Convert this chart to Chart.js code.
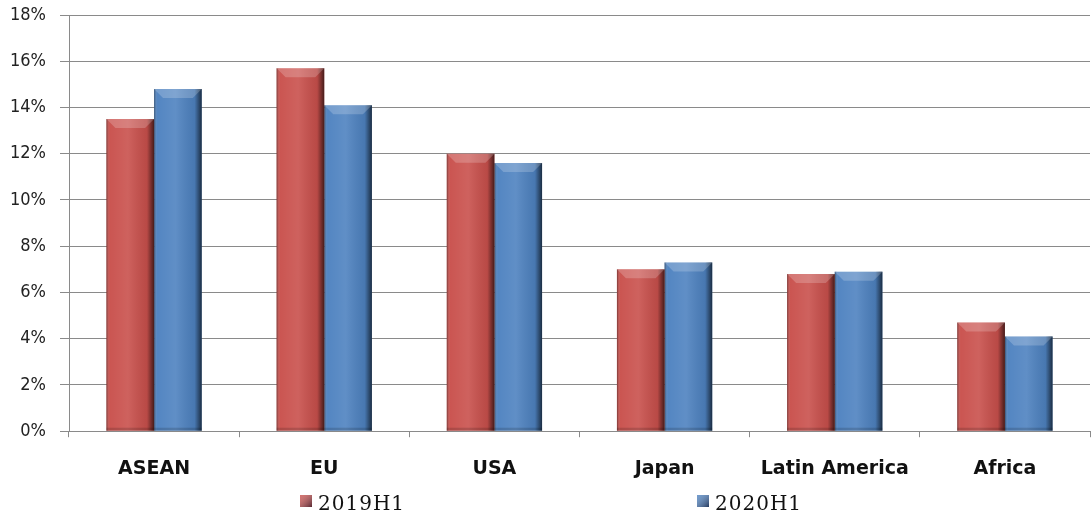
<!DOCTYPE html>
<html>
<head>
<meta charset="utf-8">
<script src="https://cdn.jsdelivr.net/npm/chart.js@4/dist/chart.umd.min.js"></script>
<style>
  html, body { margin: 0; padding: 0; background: #fff; }
  #wrap { width: 1091px; height: 515px; position: relative; }
</style>
</head>
<body>
<div id="wrap"><canvas id="regionChart"></canvas></div>
<script>
// data (percent)
const regions = ['ASEAN', 'EU', 'USA', 'Japan', 'Latin America', 'Africa'];
const seriesNames = ['2019H1', '2020H1'];
const values2019 = [13.5, 15.7, 12.0, 7.0, 6.8, 4.7];
const values2020 = [14.8, 14.1, 11.6, 7.3, 6.9, 4.1];
const yTicks = [0, 2, 4, 6, 8, 10, 12, 14, 16, 18];

const colors = ['#C9504C', '#4E82C0'];
const gridGrey = '#8a8a8a';

// bevel / shading on top of the plain bars
const bevelBars = {
    id: 'bevelBars',
    afterDatasetsDraw(chart) {
        const ctx = chart.ctx;
        chart.data.datasets.forEach((ds, i) => {
            const meta = chart.getDatasetMeta(i);
            meta.data.forEach(bar => {
                const p = bar.getProps(['x', 'y', 'base', 'width'], true);
                const l = p.x - p.width / 2, r = p.x + p.width / 2;
                const top = p.y, bot = p.base;
                const b = 9;
                ctx.save();
                // side shading
                const g = ctx.createLinearGradient(l, 0, r, 0);
                g.addColorStop(0, 'rgba(0,0,0,0.4)');
                g.addColorStop(0.07, 'rgba(255,255,255,0.03)');
                g.addColorStop(0.45, 'rgba(255,255,255,0.1)');
                g.addColorStop(0.85, 'rgba(0,0,0,0.08)');
                g.addColorStop(1, 'rgba(0,0,0,0.65)');
                ctx.fillStyle = g;
                ctx.fillRect(l, top, r - l, bot - top);
                // top bevel
                ctx.beginPath();
                ctx.moveTo(l, top);
                ctx.lineTo(r, top);
                ctx.lineTo(r - b, top + b);
                ctx.lineTo(l + b, top + b);
                ctx.closePath();
                ctx.fillStyle = 'rgba(255,255,255,0.2)';
                ctx.fill();
                // bottom edge
                ctx.fillStyle = 'rgba(0,0,0,0.15)';
                ctx.fillRect(l, bot - 3, r - l, 3);
                ctx.restore();
            });
        });
    }
};

// legend drawn by hand so the two items sit far apart like the original
const spreadLegend = {
    id: 'spreadLegend',
    afterDraw(chart, args, opts) {
        const ctx = chart.ctx;
        ctx.save();
        chart.data.datasets.forEach((ds, i) => {
            const x = opts.xs[i], y = opts.y;
            const g = ctx.createLinearGradient(x, y, x + 12, y + 12);
            g.addColorStop(0, 'rgba(255,255,255,0.2)');
            g.addColorStop(1, 'rgba(10,10,30,0.6)');
            ctx.fillStyle = ds.backgroundColor;
            ctx.fillRect(x, y, 12, 12);
            ctx.fillStyle = g;
            ctx.fillRect(x, y, 12, 12);
            ctx.fillStyle = '#111';
            ctx.font = '20px "DejaVu Serif"';
            ctx.letterSpacing = '1px';
            ctx.textBaseline = 'alphabetic';
            ctx.fillText(ds.label, x + 18, y + 15);
        });
        ctx.restore();
    }
};

new Chart(document.getElementById('regionChart'), {
    type: 'bar',
    data: {
        labels: regions,
        datasets: [
            { label: seriesNames[0], data: values2019, backgroundColor: colors[0] },
            { label: seriesNames[1], data: values2020, backgroundColor: colors[1] }
        ]
    },
    options: {
        responsive: true,
        maintainAspectRatio: false,
        animation: false,
        categoryPercentage: 0.56,
        barPercentage: 1.0,
        layout: { padding: { top: 15, right: 1, left: 0, bottom: 15 } },
        plugins: {
            legend: { display: false },
            tooltip: { enabled: false },
            spreadLegend: { xs: [300, 697], y: 495 }
        },
        scales: {
            x: {
                grid: { offset: true, drawOnChartArea: false, color: gridGrey, tickLength: 6 },
                border: { color: gridGrey },
                ticks: {
                    color: '#111',
                    padding: 20,
                    font: { family: 'DejaVu Sans', size: 19, weight: 'bold' }
                }
            },
            y: {
                min: 0,
                max: 18,
                afterBuildTicks: axis => { axis.ticks = yTicks.map(v => ({ value: v })); },
                afterFit: axis => { axis.width = 69; axis.paddingTop = 0; },
                grid: { color: gridGrey, tickLength: 9 },
                border: { color: gridGrey },
                ticks: {
                    color: '#222',
                    padding: 14,
                    callback: v => v + '%',
                    font: { family: '"DejaVu Sans Condensed", "Liberation Sans"', size: 18, lineHeight: 1 }
                }
            }
        }
    },
    plugins: [bevelBars, spreadLegend]
});
</script>
</body>
</html>
